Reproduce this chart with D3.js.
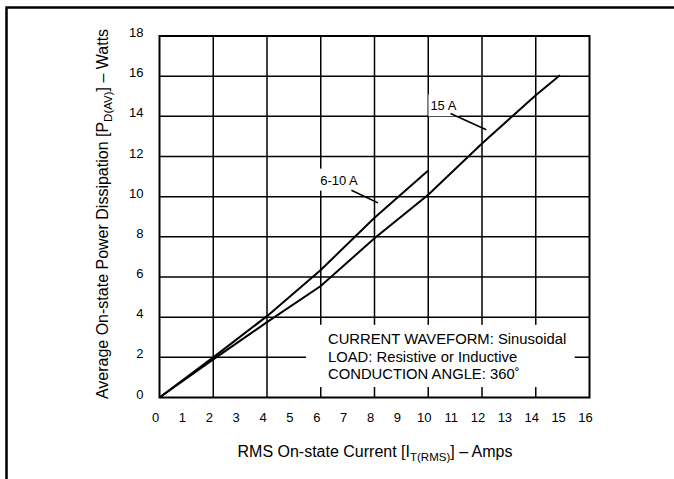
<!DOCTYPE html>
<html>
<head>
<meta charset="utf-8">
<script src="https://cdn.jsdelivr.net/npm/d3@7"></script>
<style>
  html, body { margin: 0; padding: 0; background: #fff; }
  svg { display: block; font-family: "Liberation Sans", Arial, Helvetica, sans-serif; }
</style>
</head>
<body>
<svg id="chart" width="674" height="479"></svg>
<script>
// ---- data ----
const xTicks = [0,1,2,3,4,5,6,7,8,9,10,11,12,13,14,15,16];
const yTicks = [0,2,4,6,8,10,12,14,16,18];
const xGrid = [2,4,6,8,10,12,14];
const yGrid = [2,4,6,8,10,12,14,16];
const curve610X = [0, 2, 4, 6, 8, 10];
const curve610Y = [0, 2.0, 4.05, 6.35, 8.95, 11.3];
const curve15X = [0, 2, 4, 6, 8, 10, 12, 14, 14.9];
const curve15Y = [0, 1.9, 3.75, 5.55, 7.93, 10.1, 12.65, 15.05, 16.05];
const curveLabels = ["6-10 A", "15 A"];
const legendLines = ["CURRENT WAVEFORM: Sinusoidal", "LOAD: Resistive or Inductive", "CONDUCTION ANGLE: 360˚"];

// ---- layout ----
const svg = d3.select("#chart");
const x = d3.scaleLinear().domain([0, 16]).range([159.5, 589.5]);
const y = d3.scaleLinear().domain([0, 18]).range([397.5, 36]);

// outer frame
svg.append("path").attr("d", "M6.5,479 V7.5 H674")
  .attr("fill", "none").attr("stroke", "#000").attr("stroke-width", 2.5);

const g = svg.append("g");

// gridlines
g.selectAll("line.vg").data(xGrid).join("line")
  .attr("x1", d => x(d)).attr("x2", d => x(d))
  .attr("y1", y(0)).attr("y2", y(18))
  .attr("stroke", "#000").attr("stroke-width", 1.5);
g.selectAll("line.hg").data(yGrid).join("line")
  .attr("y1", d => y(d)).attr("y2", d => y(d))
  .attr("x1", x(0)).attr("x2", x(16))
  .attr("stroke", "#000").attr("stroke-width", 1.5);

// legend white box (covers grid)
g.append("rect")
  .attr("x", x(5.45)).attr("y", y(3.62))
  .attr("width", x(15.45) - x(5.45)).attr("height", y(0.52) - y(3.62))
  .attr("fill", "#fff");

// plot border
g.append("rect")
  .attr("x", x(0)).attr("y", y(18))
  .attr("width", x(16) - x(0)).attr("height", y(0) - y(18))
  .attr("fill", "none").attr("stroke", "#000").attr("stroke-width", 2);

// curves
const line = d3.line().x(d => x(d[0])).y(d => y(d[1]));
const c610 = curve610X.map((v, i) => [v, curve610Y[i]]);
const c15 = curve15X.map((v, i) => [v, curve15Y[i]]);
[c610, c15].forEach(c => {
  g.append("path").attr("d", line(c))
    .attr("fill", "none").attr("stroke", "#000").attr("stroke-width", 2);
});

// curve labels with white background and leader lines
const labelPos = [[5.98, 10.6], [10.08, 14.3]];
const leaders = [[[7.14, 10.32], [8.13, 9.69]], [[10.83, 14.14], [12.16, 13.33]]];
curveLabels.forEach((t, i) => {
  const tx = g.append("text")
    .attr("x", x(labelPos[i][0])).attr("y", y(labelPos[i][1]))
    .attr("font-size", 13).attr("fill", "#000").text(t);
  const bb = tx.node().getBBox();
  g.insert("rect", () => tx.node())
    .attr("x", bb.x - 2).attr("y", bb.y - 4)
    .attr("width", bb.width + 4).attr("height", bb.height + 7)
    .attr("fill", "#fff");
  g.append("line")
    .attr("x1", x(leaders[i][0][0])).attr("y1", y(leaders[i][0][1]))
    .attr("x2", x(leaders[i][1][0])).attr("y2", y(leaders[i][1][1]))
    .attr("stroke", "#000").attr("stroke-width", 1.5);
});

// legend text
legendLines.forEach((t, i) => {
  g.append("text")
    .attr("x", 328).attr("y", 344 + i * 17.5)
    .attr("font-size", 14.8).attr("fill", "#000").text(t);
});

// tick labels
g.selectAll("text.xt").data(xTicks).join("text")
  .attr("x", d => x(d) - 4).attr("y", 422)
  .attr("text-anchor", "middle").attr("font-size", 13).attr("fill", "#000")
  .text(d => d);
g.selectAll("text.yt").data(yTicks).join("text")
  .attr("x", 143.5).attr("y", d => y(d) + 1)
  .attr("text-anchor", "end").attr("font-size", 13).attr("fill", "#000")
  .text(d => d);

// axis titles
const xt = svg.append("text").attr("x", 375).attr("y", 457)
  .attr("text-anchor", "middle").attr("font-size", 16).attr("fill", "#000");
xt.append("tspan").text("RMS On-state Current [I");
xt.append("tspan").attr("font-size", 11.5).attr("dy", 4).text("T(RMS)");
xt.append("tspan").attr("dy", -4).text("] – Amps");

const yt = svg.append("text")
  .attr("transform", "translate(108,214) rotate(-90)")
  .attr("text-anchor", "middle").attr("font-size", 16).attr("fill", "#000");
yt.append("tspan").text("Average On-state Power Dissipation [P");
yt.append("tspan").attr("font-size", 11.5).attr("dy", 4).text("D(AV)");
yt.append("tspan").attr("dy", -4).text("] – Watts");
</script>
</body>
</html>
